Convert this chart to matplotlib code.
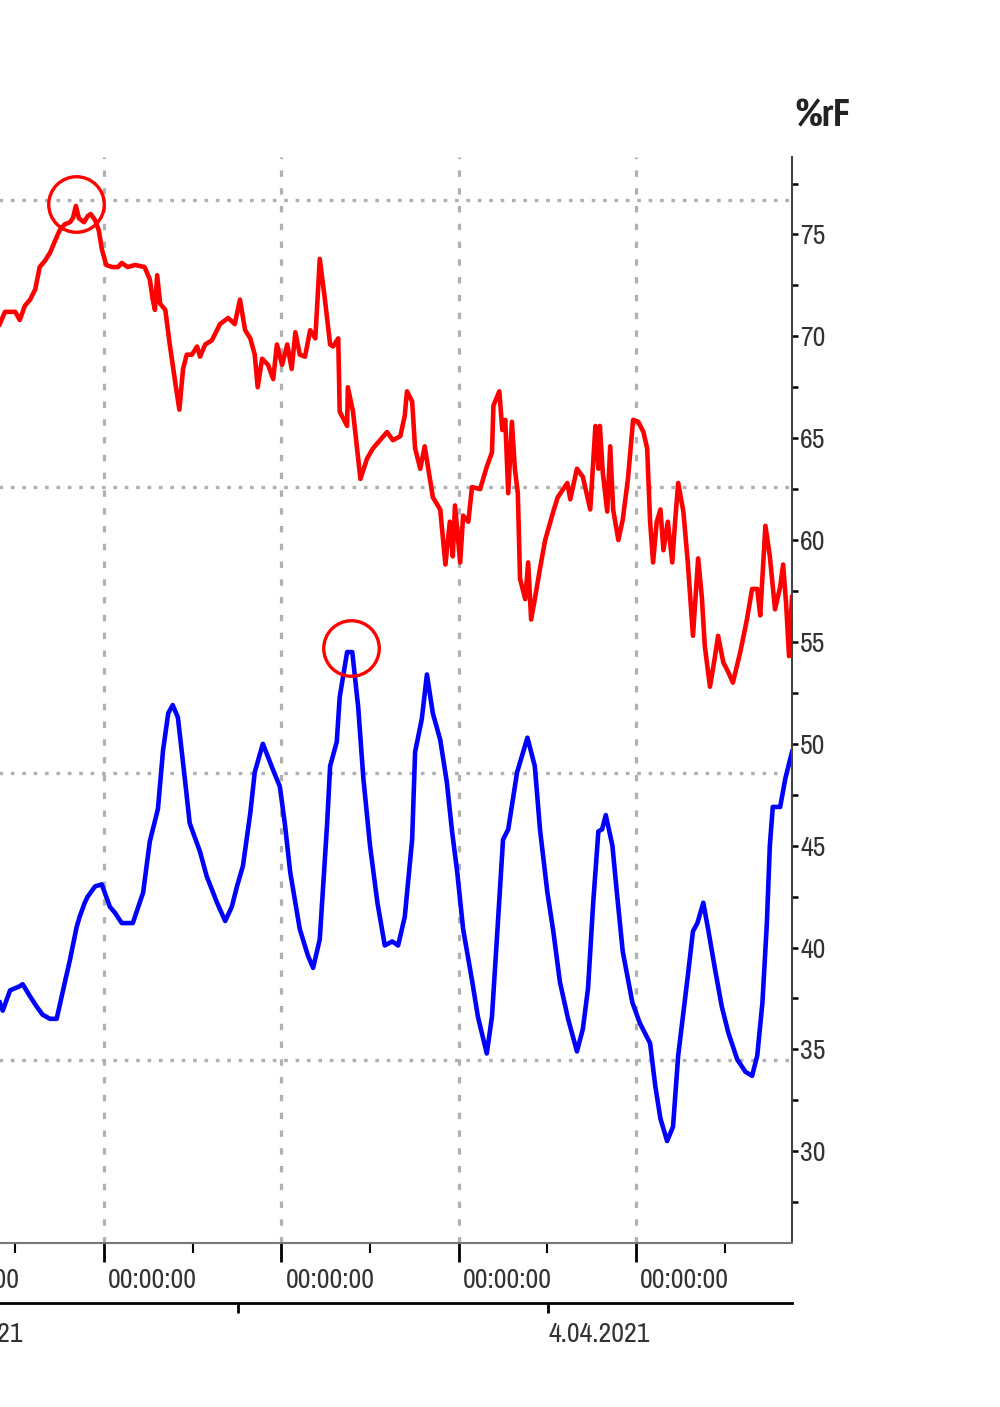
import matplotlib
matplotlib.use('Agg')
import matplotlib.pyplot as plt
from matplotlib import font_manager
from matplotlib.ticker import FixedLocator, MultipleLocator, NullFormatter


# hours counted from the midnight of the first full gridline
red_t = [-14.1, -13.4, -12.7, -12.0, -11.4, -10.7, -10.0, -9.3, -8.7, -8.0,
         -7.3, -6.6, -6.0, -5.3, -4.6, -4.2, -3.8, -3.4, -2.7, -2.2,
         -1.8, -1.2, -0.7, -0.3, 0.3, 1.1, 1.9, 2.4, 3.2, 4.2,
         5.5, 6.2, 6.6, 6.9, 7.2, 7.6, 8.3, 8.9, 9.3, 9.7,
         10.2, 10.7, 11.2, 11.9, 12.6, 13.0, 13.7, 14.6, 15.7, 16.8,
         17.7, 18.4, 19.1, 19.8, 20.4, 20.8, 21.4, 22.2, 22.9, 23.4,
         24.1, 24.8, 25.4, 25.9, 26.5, 27.2, 27.9, 28.6, 29.2, 29.9,
         30.6, 31.0, 31.7, 31.9, 32.9, 33.0, 33.7, 34.7, 35.6, 36.4,
         38.3, 39.1, 40.1, 40.7, 41.0, 41.7, 42.1, 42.8, 43.4, 44.1,
         44.5, 45.5, 46.2, 46.8, 47.2, 47.5, 48.2, 48.6, 49.3, 49.8,
         50.9, 51.8, 52.5, 52.7, 53.5, 53.9, 54.3, 54.7, 55.2, 55.6,
         56.0, 56.3, 57.0, 57.4, 57.8, 58.3, 59.0, 59.7, 60.8, 61.4,
         62.7, 63.1, 64.0, 64.8, 65.8, 66.5, 66.9, 67.1, 67.5, 68.1,
         68.5, 68.9, 69.6, 70.2, 70.9, 71.6, 72.3, 73.0, 73.5, 73.9,
         74.3, 74.8, 75.3, 75.7, 76.3, 76.9, 77.3, 77.7, 78.4, 79.0,
         79.7, 80.4, 80.9, 81.3, 82.0, 82.6, 83.1, 83.8, 84.5, 85.1,
         86.1, 87.0, 87.7, 88.4, 88.8, 89.5, 90.1, 90.8, 91.5, 91.9,
         92.3, 92.7, 93.1]
red_v = [70.6, 71.2, 71.2, 71.2, 70.8, 71.5, 71.8, 72.3, 73.4, 73.7,
         74.1, 74.7, 75.2, 75.5, 75.6, 75.8, 76.4, 75.8, 75.6, 75.9,
         76.0, 75.7, 75.2, 74.3, 73.5, 73.4, 73.4, 73.6, 73.4, 73.5,
         73.4, 72.8, 71.8, 71.3, 73.0, 71.6, 71.3, 69.6, 68.6, 67.6,
         66.4, 68.4, 69.1, 69.1, 69.5, 69.0, 69.6, 69.8, 70.6, 70.9,
         70.6, 71.8, 70.3, 69.9, 69.1, 67.5, 68.9, 68.6, 67.9, 69.6,
         68.6, 69.6, 68.4, 70.2, 69.1, 69.0, 70.3, 69.9, 73.8, 71.8,
         69.6, 69.5, 69.9, 66.3, 65.6, 67.5, 66.3, 63.0, 64.0, 64.5,
         65.3, 64.9, 65.1, 66.1, 67.3, 66.8, 64.5, 63.5, 64.6, 63.0,
         62.1, 61.5, 58.8, 60.9, 59.2, 61.7, 58.9, 61.2, 60.9, 62.6,
         62.5, 63.6, 64.3, 66.6, 67.3, 65.4, 65.9, 62.3, 65.8, 63.5,
         62.3, 58.1, 57.1, 58.9, 56.1, 57.1, 58.6, 60.0, 61.4, 62.1,
         62.8, 62.0, 63.5, 63.1, 61.5, 65.6, 63.5, 65.6, 63.3, 61.4,
         64.6, 61.5, 60.0, 61.0, 63.0, 65.9, 65.8, 65.3, 64.5, 60.9,
         58.9, 60.9, 61.5, 59.5, 60.9, 58.9, 61.0, 62.8, 61.4, 58.9,
         55.3, 59.1, 57.2, 54.8, 52.8, 54.1, 55.3, 54.0, 53.5, 53.0,
         54.5, 56.1, 57.6, 57.6, 56.3, 60.7, 59.2, 56.6, 57.7, 58.8,
         56.9, 54.3, 57.2]

blue_t = [-14.1, -13.7, -12.7, -11.4, -11.0, -10.0, -9.1, -8.3, -7.3, -6.4,
          -5.6, -4.6, -3.7, -3.3, -2.6, -2.2, -1.2, -0.3, 0.8, 1.5,
          2.4, 3.9, 5.3, 6.2, 7.3, 8.0, 8.7, 9.3, 10.0, 11.0,
          11.6, 13.0, 13.9, 15.3, 16.4, 17.3, 18.0, 18.8, 19.8, 20.4,
          21.5, 22.9, 23.8, 24.5, 25.2, 26.5, 27.6, 28.3, 29.2, 30.2,
          30.6, 31.5, 31.9, 32.9, 33.6, 34.4, 35.1, 36.0, 37.0, 38.0,
          39.0, 39.8, 40.7, 41.7, 42.1, 43.0, 43.7, 44.5, 45.5, 46.4,
          47.1, 47.8, 48.6, 49.8, 50.6, 51.8, 52.5, 53.3, 54.0, 54.7,
          55.9, 57.3, 58.3, 59.0, 60.0, 60.8, 61.7, 62.8, 64.0, 64.8,
          65.5, 66.2, 66.9, 67.4, 67.9, 68.8, 69.4, 70.2, 71.5, 72.5,
          73.9, 74.6, 75.3, 76.2, 77.0, 77.7, 78.4, 79.0, 79.7, 80.3,
          81.1, 81.8, 82.7, 83.6, 84.5, 85.7, 86.8, 87.7, 88.4, 89.1,
          89.7, 90.1, 90.5, 91.5, 92.2, 93.1]
blue_v = [37.3, 36.9, 37.9, 38.1, 38.2, 37.6, 37.1, 36.7, 36.5, 36.5,
          37.8, 39.4, 41.0, 41.5, 42.2, 42.5, 43.0, 43.1, 42.0, 41.7,
          41.2, 41.2, 42.7, 45.2, 46.8, 49.7, 51.5, 51.9, 51.3, 48.1,
          46.1, 44.7, 43.5, 42.2, 41.3, 42.0, 43.0, 44.0, 46.6, 48.6,
          50.0, 48.7, 47.9, 46.0, 43.7, 40.9, 39.6, 39.0, 40.4, 46.1,
          48.9, 50.1, 52.3, 54.5, 54.5, 51.8, 48.3, 45.0, 42.2, 40.1,
          40.3, 40.1, 41.5, 45.3, 49.6, 51.2, 53.4, 51.5, 50.2, 48.1,
          45.7, 43.7, 40.9, 38.4, 36.6, 34.8, 36.6, 41.2, 45.3, 45.8,
          48.6, 50.3, 48.9, 45.8, 42.7, 40.8, 38.3, 36.5, 34.9, 36.0,
          38.0, 42.2, 45.7, 45.8, 46.5, 45.0, 42.7, 39.8, 37.3, 36.3,
          35.3, 33.2, 31.6, 30.5, 31.2, 34.7, 36.8, 38.6, 40.8, 41.2,
          42.2, 40.8, 38.9, 37.1, 35.8, 34.5, 33.9, 33.7, 34.7, 37.3,
          41.2, 45.0, 46.9, 46.9, 48.3, 49.6]

# the two maxima that are ringed in red
peak_t = [-3.8, 33.4]
peak_v = [76.5, 54.7]

# gridlines belonging to the hidden left axis, in %rF units
grid_left = [76.7, 62.6, 48.55, 34.5]

hour_ticks = [-24, 0, 24, 48, 72]
hour_labels = ['00:00:00'] * len(hour_ticks)
date_ticks = [-24.6, 18.1, 60.1]
date_labels = ['2.04.2021', '', '4.04.2021']

NARROW = ['Liberation Sans Narrow', 'Arial Narrow', 'Archivo Narrow',
          'PT Sans Narrow', 'Roboto Condensed', 'Barlow Condensed']


def pick_font(names):
    for n in names:
        try:
            font_manager.findfont(n, fallback_to_default=False)
            return n
        except ValueError:
            pass
    return 'DejaVu Sans'


def pick_bold(names):
    for n in names:
        for f in font_manager.fontManager.ttflist:
            try:
                w = int(f.weight)
            except (TypeError, ValueError):
                w = 700 if 'bold' in str(f.weight) else 400
            if f.name == n and w >= 700 and f.style == 'normal':
                return n
    return 'DejaVu Sans'


FONT = pick_font(NARROW)
BOLD = pick_bold(NARROW)
plt.rcParams['font.family'] = [FONT, 'DejaVu Sans']
plt.rcParams['lines.scale_dashes'] = False

TXT = '#333333'
GRID = '#b0b0b0'
FS = 20

fig = plt.figure(figsize=(10, 14.07), dpi=100)
ax = fig.add_axes([-0.1, 0.1166, 0.892, 0.7718])
ax.set_xlim(-27.6, 93.1)
ax.set_ylim(25.5, 78.8)

for v in grid_left:
    ax.axhline(v, color=GRID, lw=2.4, linestyle=(0, (2.6, 5.6)), zorder=0)
for t in hour_ticks:
    ax.axvline(t, color=GRID, lw=2.3, linestyle=(0, (4.6, 8.2)), zorder=0)

ax.plot(red_t, red_v, color='#ff0000', lw=3.3, solid_joinstyle='round')
ax.plot(blue_t, blue_v, color='#0000ff', lw=3.3, solid_joinstyle='round')
ax.plot(peak_t, peak_v, 'o', ms=40, mfc='none', mec='#ff0000', mew=2.4, zorder=5)

ax.spines[['left', 'top']].set_visible(False)
ax.spines['right'].set_color('#444444')
ax.spines['right'].set_linewidth(1.5)
ax.spines['bottom'].set_color('#777777')
ax.spines['bottom'].set_linewidth(1.5)

ax.yaxis.tick_right()
ax.yaxis.set_major_locator(MultipleLocator(5))
ax.yaxis.set_minor_locator(MultipleLocator(2.5))
ax.tick_params(axis='y', which='both', direction='out', length=4.5, width=1.8,
               color='black', labelcolor=TXT, labelsize=FS, pad=1.5)

ax.xaxis.set_major_locator(FixedLocator(hour_ticks))
ax.xaxis.set_major_formatter(NullFormatter())
ax.xaxis.set_minor_locator(MultipleLocator(12))
ax.tick_params(axis='x', which='major', direction='out', length=14, width=2, color='black')
ax.tick_params(axis='x', which='minor', direction='out', length=7, width=1.5, color='black')

for t, lab in zip(hour_ticks, hour_labels):
    ax.text(t + 6.6, -0.035, lab, transform=ax.get_xaxis_transform(),
            ha='center', va='center', fontsize=FS, color=TXT)

sec = ax.secondary_xaxis(-0.0552)
sec.set_xticks(date_ticks)
sec.set_xticklabels(date_labels)
sec.spines['bottom'].set_color('black')
sec.spines['bottom'].set_linewidth(2)
sec.tick_params(axis='x', direction='out', length=7, width=2, color='black',
                labelcolor=TXT, labelsize=FS, pad=7)
for lbl in sec.get_xticklabels():
    lbl.set_horizontalalignment('left')

fig.text(0.822, 1 - 117 / 1407, '%rF', ha='center', va='center',
         fontsize=28, fontweight='bold', family=[BOLD, 'DejaVu Sans'], color='#222222')

fig.savefig('out.png', dpi=100)
